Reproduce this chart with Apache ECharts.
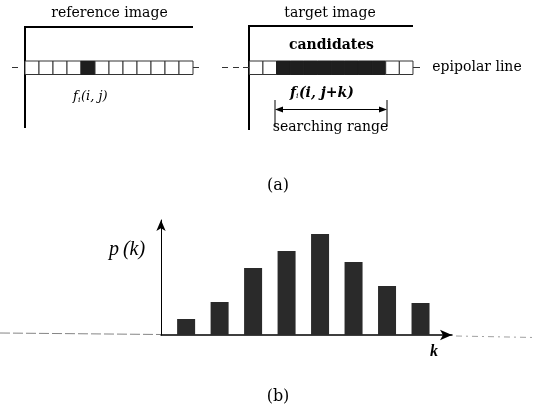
<!DOCTYPE html>
<html><head><meta charset="utf-8">
<script src="https://cdn.jsdelivr.net/npm/echarts@6/dist/echarts.min.js"></script>
<style>html,body{margin:0;padding:0;background:#fff}#c{width:534px;height:411px}</style>
</head><body><div id="c"></div>
<script>
var kValues = [1, 2, 3, 4, 5, 6, 7, 8];
var pValues = [16, 33, 67, 84, 101, 73, 49, 32];
var refCells = [0,0,0,0,1,0,0,0,0,0,0,0];
var tgtCells = [0,0,1,1,1,1,1,1,1,1,0,0];

var serif = '"Liberation Serif",serif';
var dserif = '"DejaVu Serif",serif';
var g = [];
function line(x1,y1,x2,y2,w,c,dash){g.push({type:'line',shape:{x1:x1,y1:y1,x2:x2,y2:y2},style:{stroke:c||'#000',lineWidth:w||1,lineDash:dash||null},z:10});}
function txt(t,x,y,size,opt){opt=opt||{};g.push({type:'text',x:x,y:y,style:{text:t,font:(opt.style||'')+' '+(opt.weight||'normal')+' '+size+'px '+(opt.fam||serif),fill:'#000',textAlign:opt.align||'center',textVerticalAlign:'middle'},z:20});}
// frames
g.push({type:'polyline',shape:{points:[[25,128],[25,27],[193,27]]},style:{stroke:'#000',lineWidth:2,fill:null},z:10});
g.push({type:'polyline',shape:{points:[[249,130],[249,26],[413,26]]},style:{stroke:'#000',lineWidth:2,fill:null},z:10});
// cell rows
function row(x0,w,cells){cells.forEach(function(v,i){g.push({type:'rect',shape:{x:x0+i*w,y:61,width:w,height:13.5},style:{fill:v?'#1e1e1e':'#fff',stroke:v?'#1e1e1e':'#333',lineWidth:1},z:11});});}
row(25,14,refCells);
row(249.3,13.64,tgtCells);
line(12,67.5,18,67.5,1,'#333');
line(193,67.5,199,67.5,1,'#333');
line(222,67.5,228,67.5,1,'#333');
line(233,67.5,239,67.5,1,'#333');
line(243,67.5,249,67.5,1,'#333');
line(413,67.5,420,67.5,1,'#333');
// searching range arrow
line(275,100,275,126,1,'#000');
line(387,100,387,126,1,'#000');
line(281,109.5,381,109.5,1.2,'#000');
g.push({type:'polygon',shape:{points:[[275,109.5],[283,106.5],[283,112.5]]},style:{fill:'#000'},z:12});
g.push({type:'polygon',shape:{points:[[387,109.5],[379,106.5],[379,112.5]]},style:{fill:'#000'},z:12});
// texts
txt('reference image',109.5,13,14,{fam:dserif});
txt('target image',330,13,14,{fam:dserif});
txt('candidates',331.5,45,14,{fam:dserif,weight:'bold'});
txt('epipolar line',477,67,14,{fam:dserif});
txt('f',73,97,13,{style:'italic',align:'left',fam:dserif});
txt('i',78,100,8,{style:'italic',align:'left',fam:dserif});
txt('(i, j)',81,97,13,{style:'italic',align:'left',fam:dserif});
txt('f',290,93,14,{style:'italic',weight:'bold',align:'left',fam:dserif});
txt('i',296,96,8,{style:'italic',align:'left',fam:dserif});
txt('(i, j+k)',299,93,14,{style:'italic',weight:'bold',align:'left',fam:dserif});
txt('searching range',330.5,127,14,{fam:dserif});
txt('(a)',278,186,16,{fam:dserif});
txt('(b)',278,397,16,{fam:dserif});
txt('p',114,250,20,{style:'italic'});
txt('(k)',134,250,20,{style:'italic'});
txt('k',434,352,16,{style:'italic',weight:'bold'});
// baseline extensions
line(0,333,161,334.5,0.8,'#666',[10,3]);
line(456,336,534,337.5,0.8,'#888',[6,4,2,4]);

var chart = echarts.init(document.getElementById('c'));
chart.setOption({
  animation:false,
  grid:{left:161,right:82,top:220,bottom:76},
  xAxis:{type:'value',min:0.25,max:8.94,axisLine:{show:true,symbol:['none','arrow'],symbolSize:[8,12],lineStyle:{color:'#000',width:1.5}},axisTick:{show:false},axisLabel:{show:false},splitLine:{show:false}},
  yAxis:{type:'value',min:0,max:115,axisLine:{show:true,symbol:['none','arrow'],symbolSize:[7,11],lineStyle:{color:'#000',width:1}},axisTick:{show:false},axisLabel:{show:false},splitLine:{show:false}},
  series:[{type:'bar',data:kValues.map(function(k,i){return [k,pValues[i]];}),barWidth:18,itemStyle:{color:'#2a2a2a'}}],
  graphic:g
});
</script></body></html>
